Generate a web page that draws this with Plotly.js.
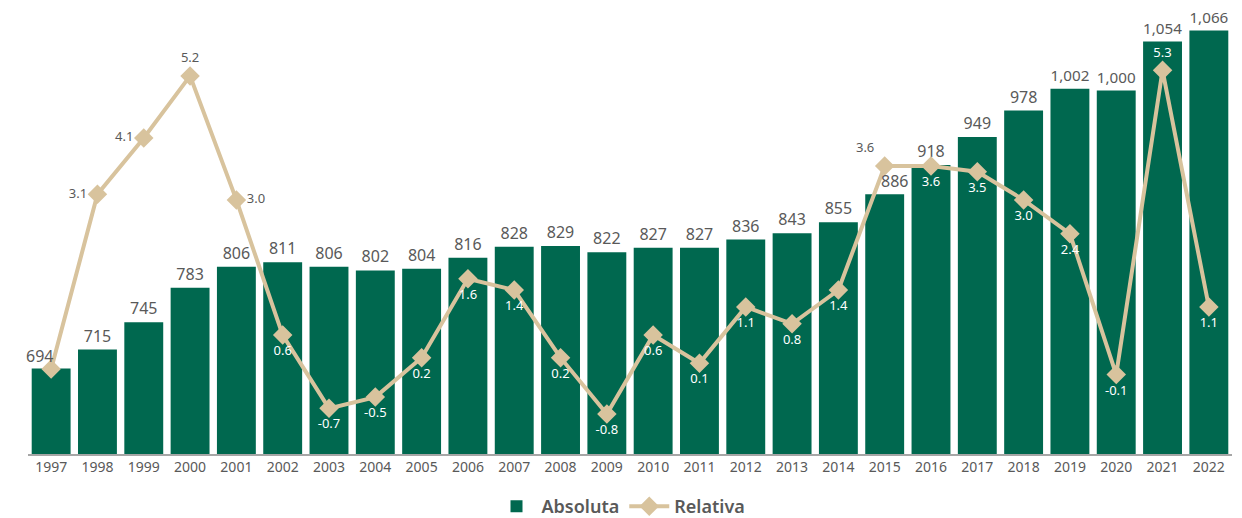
<!DOCTYPE html>
<html>
<head>
<meta charset="utf-8">
<script src="https://cdn.plot.ly/plotly-3.0.1.min.js"></script>
<style>html,body{margin:0;padding:0;background:#fff;}#chart{width:1242px;height:518px;}</style>
</head>
<body>
<div id="chart"></div>
<script>
const years = ['1997','1998','1999','2000','2001','2002','2003','2004','2005','2006','2007','2008','2009','2010','2011','2012','2013','2014','2015','2016','2017','2018','2019','2020','2021','2022'];
const absoluta = [694,715,745,783,806,811,806,802,804,816,828,829,822,827,827,836,843,855,886,918,949,978,1002,1000,1054,1066];
const relativa = [0.0,3.1,4.1,5.2,3.0,0.6,-0.7,-0.5,0.2,1.6,1.4,0.2,-0.8,0.6,0.1,1.1,0.8,1.4,3.6,3.6,3.5,3.0,2.4,-0.1,5.3,1.1];
const relLabels = ['','3.1','4.1','5.2','3.0','0.6','-0.7','-0.5','0.2','1.6','1.4','0.2','-0.8','0.6','0.1','1.1','0.8','1.4','3.6','3.6','3.5','3.0','2.4','-0.1','5.3','1.1'];

const GREEN = '#00684F';
const TAN = '#D8C39D';
const GREY = '#595959';

const relPos = relativa.map(() => 'bottom center');
const relCol = relativa.map(() => '#ffffff');
[[1,'middle left'],[2,'middle left'],[3,'top center'],[4,'middle right'],[18,'top left']].forEach(([i,p]) => { relPos[i] = p; relCol[i] = GREY; });
relPos[24] = 'top center';

const FONT = 'Noto Sans, Open Sans, sans-serif';

// bar labels that sit beside the line marker are shifted sideways (annotations)
const shiftIdx = [0, 18];
const shiftPx = [-12, 10];
const barText = absoluta.map((v, i) => shiftIdx.includes(i) ? '' : v.toLocaleString('en-US'));
const annotations = shiftIdx.map((i, k) => ({
  x: i, y: absoluta[i], xref: 'x', yref: 'y',
  text: absoluta[i].toLocaleString('en-US'), showarrow: false,
  xanchor: 'center', yanchor: 'bottom', xshift: shiftPx[k], yshift: 0,
  font: {color: GREY, size: 16, family: FONT}
}));

const traces = [
  {
    type: 'bar', name: 'Absoluta', x: years, y: absoluta,
    marker: {color: GREEN},
    text: barText,
    textposition: 'outside', cliponaxis: false,
    textfont: {color: GREY, size: 16, family: FONT},
    hoverinfo: 'x+y'
  },
  {
    type: 'scatter', mode: 'lines+markers+text', name: 'Relativa', x: years, y: relativa, yaxis: 'y2',
    line: {color: TAN, width: 4},
    marker: {symbol: 'diamond', size: 15, color: TAN},
    text: relLabels, textposition: relPos, cliponaxis: false,
    textfont: {color: relCol, size: 13, family: FONT}
  }
];

const layout = {
  width: 1242, height: 518,
  margin: {l: 28, r: 10, t: 10, b: 64},
  paper_bgcolor: '#ffffff', plot_bgcolor: '#ffffff',
  font: {family: FONT, color: GREY},
  bargap: 0.16,
  showlegend: true,
  annotations: annotations,
  legend: {
    orientation: 'h', x: 0.5, xanchor: 'center', xref: 'container',
    y: 0.022, yanchor: 'middle', yref: 'container',
    font: {size: 18, color: GREY, weight: 600, family: FONT},
    itemwidth: 40, tracegroupgap: 30
  },
  xaxis: {
    type: 'category', range: [-0.5, 25.5], autorange: false, showgrid: false, zeroline: false,
    showline: true, linecolor: '#A6A6A6', linewidth: 1.5,
    ticks: '', tickfont: {size: 14, color: GREY, family: FONT}
  },
  yaxis: {
    range: [600, 1088.7], autorange: false, showgrid: false, zeroline: false, showline: false,
    showticklabels: false, ticks: ''
  },
  yaxis2: {
    overlaying: 'y', side: 'right', range: [-1.51, 6.37], autorange: false,
    showgrid: false, zeroline: false, showline: false, showticklabels: false, ticks: ''
  }
};

Plotly.newPlot('chart', traces, layout, {displayModeBar: false, staticPlot: true});
</script>
</body>
</html>
